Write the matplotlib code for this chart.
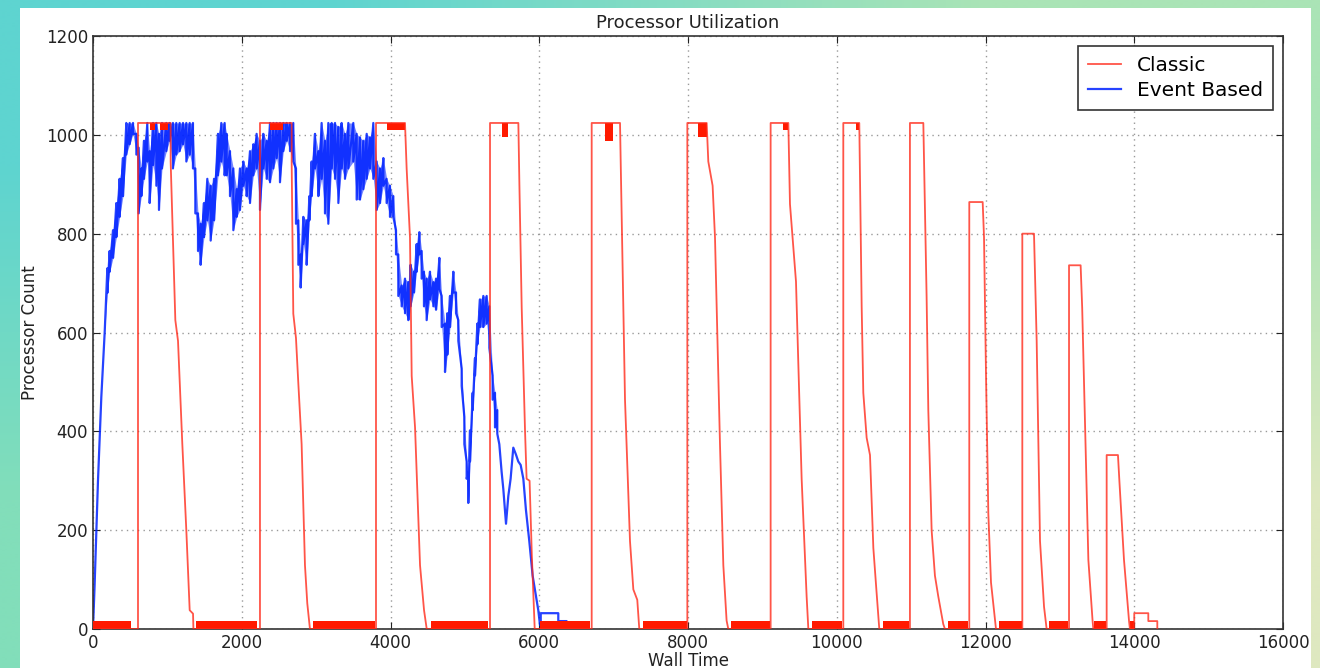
import numpy as np
import matplotlib
matplotlib.use('Agg')
import matplotlib.pyplot as plt
from matplotlib.patches import Rectangle

# Classic: breakpoints of the utilization line
red_t = [0, 605, 605, 1044, 1044, 1107, 1143, 1201, 1255, 1300, 1345, 1350,
         2245, 2245, 2671, 2671, 2693, 2729, 2760, 2805, 2850, 2881, 2917,
         3805, 3805, 4195, 4217, 4262, 4285, 4330, 4397, 4451, 4487,
         5338, 5338, 5719, 5733, 5764, 5809, 5830, 5870, 5900, 5939,
         6705, 6705, 7086, 7095, 7153, 7220, 7265, 7318, 7345,
         7991, 7991, 8251, 8273, 8331, 8363, 8430, 8475, 8519, 8542,
         9111, 9111, 9349, 9371, 9452, 9483, 9528, 9595, 9618,
         10088, 10088, 10303, 10335, 10357, 10402, 10447, 10492, 10536, 10572,
         10984, 10984, 11164, 11208, 11231, 11276, 11320, 11365, 11432, 11455,
         11782, 11782, 11962, 11980, 12007, 12038, 12074, 12114, 12141,
         12495, 12495, 12652, 12688, 12733, 12787, 12822,
         13123, 13123, 13279, 13300, 13383, 13440, 13450,
         13629, 13629, 13781, 13800, 13862, 13930, 13942,
         14000, 14000, 14189, 14189, 14310, 14310]
red_v = [0, 0, 1024, 1024, 946, 625, 583, 374, 199, 38, 31, 0,
         0, 1024, 1024, 946, 638, 589, 499, 374, 129, 52, 0,
         0, 1024, 1024, 932, 792, 512, 408, 129, 38, 0,
         0, 1024, 1024, 900, 650, 400, 304, 300, 150, 0,
         0, 1024, 1024, 946, 464, 178, 80, 59, 0,
         0, 1024, 1024, 946, 897, 792, 374, 129, 17, 0,
         0, 1024, 1024, 860, 703, 539, 304, 66, 0,
         0, 1024, 1024, 653, 478, 387, 352, 164, 73, 0,
         0, 1024, 1024, 674, 443, 199, 108, 66, 10, 0,
         0, 864, 864, 793, 513, 234, 94, 38, 0,
         0, 800, 800, 583, 178, 45, 0,
         0, 736, 736, 650, 140, 16, 0,
         0, 352, 352, 300, 140, 16, 0,
         0, 32, 32, 16, 16, 0]

# Classic: idle periods where the count flickers between 0 and 16
idle_start = [0, 1389, 2962, 4540, 6010, 7399, 8574, 9663, 10626, 11500, 12186, 12850, 13458, 13942]
idle_end = [506, 2209, 3791, 5315, 6682, 7982, 9102, 10066, 10975, 11769, 12486, 13115, 13620, 14000]
idle_level = 16

# Classic: flicker just below the 1024 plateau
dip_start = [762, 896, 2380, 3948, 5495, 6884, 8138, 9273, 10258]
dip_end = [829, 1008, 2559, 4195, 5584, 6996, 8251, 9349, 10303]
dip_low = [1009, 1009, 1009, 1009, 995, 988, 995, 1009, 1009]
plateau = 1024

# Event based: noisy band (time, upper, lower)
blue_t = [0, 22, 67, 112, 157, 193, 224, 269, 314, 358, 403, 448, 493, 538, 583,
          614, 650, 686, 730, 762, 807, 852, 887, 928, 986, 1030, 1075, 1120, 1165,
          1210, 1255, 1300, 1344, 1376, 1412, 1447, 1492, 1537, 1582, 1627, 1681,
          1725, 1770, 1797, 1842, 1887, 1932, 1976, 2021, 2066, 2111, 2156, 2200,
          2245, 2290, 2335, 2380, 2425, 2469, 2514, 2559, 2604, 2649, 2693, 2729,
          2761, 2792, 2828, 2873, 2909, 2940, 2985, 3030, 3074, 3119, 3164, 3209,
          3254, 3299, 3343, 3388, 3433, 3500, 3545, 3590, 3635, 3680, 3724, 3769,
          3814, 3859, 3904, 3948, 3993, 4038, 4074, 4105, 4150, 4195, 4240, 4271,
          4316, 4352, 4388, 4419, 4450, 4486, 4531, 4576, 4612, 4657, 4688, 4733,
          4764, 4800, 4845, 4881, 4912, 4957, 4993, 5024, 5046, 5069, 5105, 5136,
          5168, 5203, 5248, 5293, 5329, 5373, 5405, 5436]
blue_hi = [0, 90, 300, 470, 600, 730, 765, 807, 862, 911, 953, 1024, 1024, 1024, 1002,
           974, 932, 988, 1024, 967, 1024, 1024, 1002, 1024, 1024, 1024, 1024, 1024, 1024,
           1024, 1024, 1024, 1024, 932, 841, 820, 862, 911, 897, 911, 1002,
           1024, 1024, 1002, 967, 932, 890, 932, 946, 932, 967, 981, 1002,
           988, 1002, 988, 1024, 1024, 1024, 1024, 1024, 1024, 1024, 1024, 932,
           827, 758, 834, 827, 876, 946, 1002, 967, 1024, 988, 1024, 1024,
           1024, 1016, 1024, 1002, 1024, 1024, 1002, 995, 988, 1002, 995, 1024,
           946, 932, 953, 911, 897, 876, 807, 758, 695, 709, 702, 737,
           723, 779, 803, 765, 723, 709, 723, 702, 709, 751, 674, 618,
           639, 674, 723, 681, 625, 527, 429, 339, 318, 402, 478, 548,
           618, 667, 674, 674, 653, 513, 478, 443]
blue_lo = [0, 90, 300, 470, 600, 680, 723, 751, 793, 834, 876, 960, 981, 1002, 960,
           841, 876, 911, 946, 862, 939, 897, 848, 932, 967, 988, 932, 960, 967,
           981, 946, 960, 932, 841, 765, 737, 793, 827, 786, 827, 918,
           946, 918, 918, 876, 807, 834, 848, 897, 876, 862, 918, 932,
           848, 932, 911, 904, 932, 953, 904, 967, 988, 967, 946, 820,
           737, 691, 779, 737, 827, 876, 932, 876, 911, 841, 820, 932,
           911, 862, 932, 911, 932, 946, 869, 869, 890, 911, 932, 911,
           848, 862, 897, 862, 834, 834, 758, 674, 653, 639, 625, 653,
           681, 723, 758, 709, 653, 625, 667, 653, 646, 688, 611, 520,
           555, 611, 681, 639, 583, 492, 374, 304, 255, 339, 443, 513,
           576, 611, 611, 618, 569, 464, 408, 395]

# Event based: smooth tail after the noisy phase
tail_t = [5463, 5494, 5517, 5553, 5584, 5615, 5651, 5687, 5718, 5750, 5786, 5821,
          5866, 5911, 5956, 5987, 6010, 6020, 6020, 6256, 6256, 6368, 6368]
tail_v = [374, 318, 283, 213, 269, 304, 367, 353, 339, 332, 304, 241,
          178, 108, 66, 38, 8, 8, 32, 32, 16, 16, 0]

fig = plt.figure(figsize=(13.2, 6.68), dpi=100)

# gradient backdrop and white panel
bg = fig.add_axes([0, 0, 1, 1], zorder=-10)
corners = np.array([[[94, 212, 208], [170, 228, 182]],
                    [[130, 222, 186], [222, 232, 192]]]) / 255.0
bg.imshow(corners, interpolation='bilinear', aspect='auto', extent=[0, 1, 0, 1])
bg.set_axis_off()
fig.patches.append(Rectangle((20 / 1320, 0), 1291 / 1320, 660 / 668,
                             transform=fig.transFigure, facecolor='white',
                             edgecolor='none', zorder=-5))

ax = fig.add_axes([93 / 1320, 39 / 668, 1190 / 1320, 593 / 668])

bx, by = [], []
for t, hi, lo in zip(blue_t, blue_hi, blue_lo):
    bx += [t, t]
    by += [hi, lo]
bx += tail_t
by += tail_v
ax.fill_between(blue_t, blue_lo, blue_hi, color='#0022ff', alpha=0.55, lw=0, zorder=2)
blue_line, = ax.plot(bx, by, color='#0022ff', lw=1.6, alpha=0.85, zorder=2)

for s, e in zip(idle_start, idle_end):
    ax.fill_between([s, e], 0, idle_level, color='#ff1a00', lw=0, zorder=3)
for s, e, lo in zip(dip_start, dip_end, dip_low):
    ax.fill_between([s, e], lo, plateau, color='#ff1a00', lw=0, zorder=3)
red_line, = ax.plot(red_t, red_v, color='#ff2a1a', lw=1.3, alpha=0.8, zorder=4)

ax.set_xlim(0, 16000)
ax.set_ylim(0, 1200)
ax.set_xticks(np.arange(0, 16001, 2000))
ax.set_yticks(np.arange(0, 1201, 200))
ax.tick_params(direction='in', top=True, right=True, labelsize=12, length=5, colors='#222222')
ax.grid(True, color='#999999', linestyle=(0, (1, 3)), linewidth=1)
for sp in ax.spines.values():
    sp.set_color('#333333')
    sp.set_linewidth(1.2)

ax.set_title('Processor Utilization', fontsize=13, pad=6, color='#222222')
ax.set_xlabel('Wall Time', fontsize=12, labelpad=0, color='#222222')
ax.set_ylabel('Processor Count', fontsize=12, labelpad=5, color='#222222')

leg = ax.legend([red_line, blue_line], ['Classic', 'Event Based'], loc='upper right',
                fontsize=14.5, fancybox=False, framealpha=1, edgecolor='#333333',
                handlelength=1.6, handletextpad=0.8, borderpad=0.5, labelspacing=0.3,
                borderaxespad=0.5)
leg.get_frame().set_linewidth(1.2)

fig.savefig('out.png', dpi=100)
